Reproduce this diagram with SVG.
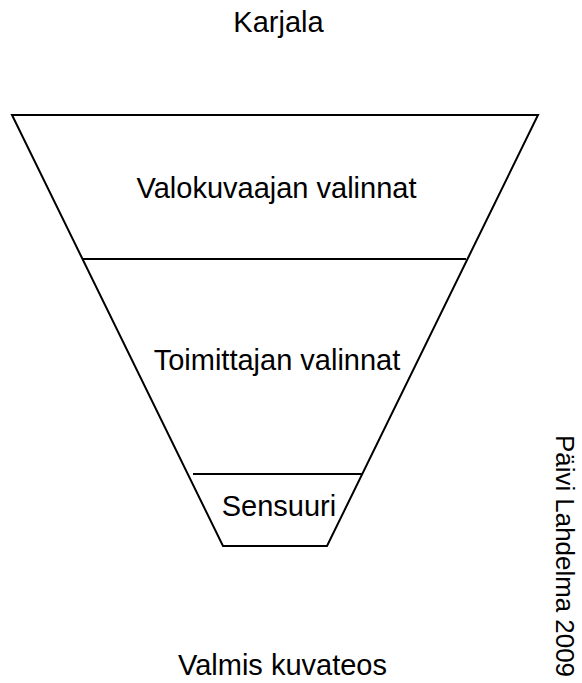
<svg xmlns="http://www.w3.org/2000/svg" width="582" height="683" viewBox="0 0 582 683">
<style>
.ln{stroke:#000;stroke-width:2;fill:none}
.t{font-family:"Liberation Sans",Arial,sans-serif;font-size:29px;fill:#000;text-anchor:middle}
</style>
<rect width="582" height="683" fill="#fff"/>
<g id="title"><text class="t" x="278.5" y="32">Karjala</text></g>
<g id="funnel">
<polygon class="ln" points="12,115 538,115 327,546 223,546"/>
</g>
<g id="valokuvaaja"><text class="t" x="276.5" y="198">Valokuvaajan valinnat</text></g>
<g id="toimittaja">
<line class="ln" x1="83" y1="259" x2="466" y2="259"/>
<text class="t" x="277" y="370">Toimittajan valinnat</text>
</g>
<g id="sensuuri">
<line class="ln" x1="193" y1="474" x2="362" y2="474"/>
<text class="t" x="279" y="516">Sensuuri</text>
</g>
<g id="valmis"><text class="t" x="282.5" y="675">Valmis kuvateos</text></g>
<g id="credit"><text class="t" style="text-anchor:start;font-size:26px" transform="translate(556,435) rotate(90)" textLength="242" lengthAdjust="spacingAndGlyphs">Päivi Lahdelma 2009</text></g>
<g id="connectors"/>
</svg>
